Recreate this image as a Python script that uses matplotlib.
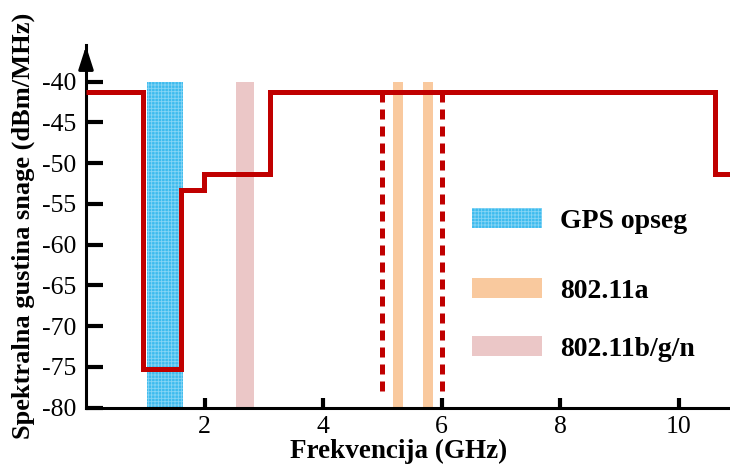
import matplotlib
matplotlib.use("Agg")
import matplotlib.pyplot as plt
from matplotlib.patches import Patch

plt.rcParams['font.family'] = ['Liberation Serif', 'DejaVu Serif']
plt.rcParams['hatch.linewidth'] = 0.6
plt.rcParams['axes.unicode_minus'] = False

# UWB mask (FCC indoor)
mask_edges = [0, 0.96, 1.61, 1.99, 3.1, 10.6, 11.5]
mask_levels = [-41.3, -75.3, -53.3, -51.3, -41.3, -51.3]

# bands (start, end) in GHz
gps_band = [(1.03, 1.63)]
wifi_a_bands = [(5.17, 5.34), (5.68, 5.85)]
wifi_bgn_bands = [(2.53, 2.84)]
band_bottom, band_top = -80, -40

# dashed limits
dash_x = [5.0, 6.0]
dash_bottom, dash_top = -78.3, -41.3

x_ticks = [2, 4, 6, 8, 10]
y_ticks = [-80, -75, -70, -65, -60, -55, -50, -45, -40]
legend_labels = ['GPS opseg', '802.11a', '802.11b/g/n']

red = '#C00000'
blue = '#3DBBEE'
orange = '#F9C99E'
pink = '#EBC7C7'

W, H = 730, 465
fig = plt.figure(figsize=(W / 100, H / 100), dpi=100)
ax = fig.add_axes([86 / W, (H - 407.7) / H, (W - 86) / W, (407.7 - 45) / H])

def draw_bands(bands, color, hatch=None, ec=None):
    for s, e in bands:
        ax.bar(s, band_top - band_bottom, width=e - s, bottom=band_bottom,
               align='edge', color=color, hatch=hatch,
               edgecolor=ec if ec else color, linewidth=0, zorder=1)

draw_bands(gps_band, blue, hatch='+++++', ec='#86D5F5')
draw_bands(wifi_a_bands, orange)
draw_bands(wifi_bgn_bands, pink)

ax.vlines(dash_x, dash_top, dash_bottom, colors=red, linewidth=3.6,
          linestyles=(0, (2.0, 1.4)), zorder=3)
ax.stairs(mask_levels, mask_edges, baseline=None, color=red, linewidth=3.6,
          zorder=4)

ax.set_xlim(0, (W - 86) / 59.3)
ax.set_ylim(-80, -35.5)
ax.set_xticks(x_ticks)
ax.set_yticks(y_ticks)
ax.tick_params(axis='both', direction='in', width=3, labelsize=18.5, color='black')
ax.tick_params(axis='y', length=12, pad=7)
ax.tick_params(axis='x', length=7, pad=6)

for s in ['top', 'right']:
    ax.spines[s].set_visible(False)
for s in ['left', 'bottom']:
    ax.spines[s].set_linewidth(2.2)

ax.annotate('', xy=(0, 1.005), xytext=(0, 0.93), xycoords='axes fraction',
            arrowprops=dict(arrowstyle='-|>,head_length=1.4,head_width=0.45',
                            color='black', lw=2.2, mutation_scale=10),
            annotation_clip=False)

ax.set_xlabel('Frekvencija (GHz)', fontsize=19.5, fontweight='bold')
ax.xaxis.set_label_coords((399 - 86) / (W - 86), -0.085)
ax.set_ylabel('Spektralna gustina snage (dBm/MHz)', fontsize=19, fontweight='bold')
ax.yaxis.set_label_coords((35 - 86) / (W - 86), 0.5)

handles = [Patch(facecolor=blue, hatch='+++++', edgecolor='#86D5F5', linewidth=0),
           Patch(facecolor=orange, edgecolor=orange, linewidth=0),
           Patch(facecolor=pink, edgecolor=pink, linewidth=0)]
legend_y = [220.7, 290.7, 349]
for h, lab, yy in zip(handles, legend_labels, legend_y):
    fig.legend([h], [lab], loc='center left',
               bbox_to_anchor=(472 / W, 1 - yy / H), frameon=False,
               prop={'weight': 'bold', 'size': 20}, handlelength=2.52,
               handleheight=0.75, handletextpad=0.65,
               borderpad=0, borderaxespad=0)

fig.savefig('out.png', dpi=100)
